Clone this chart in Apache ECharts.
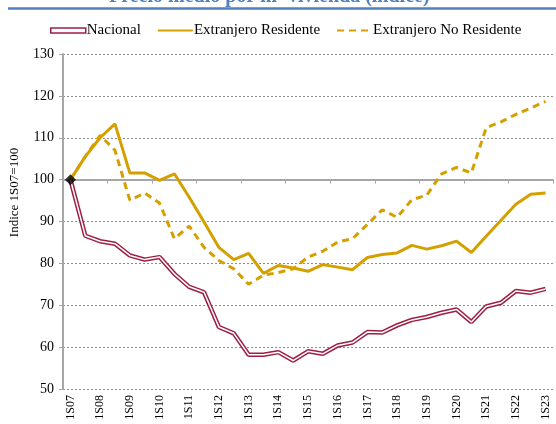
<!DOCTYPE html>
<html>
<head>
<meta charset="utf-8">
<script src="https://cdn.jsdelivr.net/npm/echarts@6/dist/echarts.min.js"></script>
<style>
  html, body { margin: 0; padding: 0; background: #fff; }
  #chart { width: 556px; height: 424px; }
</style>
</head>
<body>
<div id="chart"></div>
<script>
// semestres 1S07 .. 1S23
var periodos = ['1S07', '2S07', '1S08', '2S08', '1S09', '2S09', '1S10', '2S10', '1S11', '2S11',
  '1S12', '2S12', '1S13', '2S13', '1S14', '2S14', '1S15', '2S15', '1S16', '2S16', '1S17', '2S17',
  '1S18', '2S18', '1S19', '2S19', '1S20', '2S20', '1S21', '2S21', '1S22', '2S22', '1S23'];

// indice 1S07=100
var nacional = [100, 86.6, 85.3, 84.7, 81.9, 80.9, 81.5, 77.5, 74.4, 73.1, 64.8, 63.3, 58.2, 58.2,
  58.8, 56.8, 59.0, 58.4, 60.4, 61.1, 63.6, 63.5, 65.2, 66.5, 67.2, 68.2, 69.0, 66.0, 69.7, 70.6,
  73.4, 73.0, 73.9];
var residente = [100, 105.5, 110, 113.3, 101.6, 101.6, 99.8, 101.4, 95.8, 89.9, 83.8, 80.9, 82.4,
  77.6, 79.5, 78.9, 78.1, 79.7, 79.1, 78.5, 81.4, 82.1, 82.5, 84.3, 83.4, 84.2, 85.3, 82.6, 86.5,
  90.3, 94.1, 96.5, 96.8];
var noResidente = [100, 105.5, 110.6, 107, 95.1, 96.8, 94.4, 85.9, 88.9, 83.8, 80.7, 78.7, 75.0,
  77.2, 77.8, 78.7, 81.5, 82.9, 85.1, 85.9, 89.3, 92.8, 91.0, 95.2, 96.3, 101.4, 102.9, 101.6,
  112.4, 113.8, 115.6, 117.1, 118.7];

var yTicks = [50, 130, 10]; // min, max, paso
var base = 100;

var rojo = '#9E1F45';
var oro = '#D4A000';
var fuente = 'Liberation Serif';

var chart = echarts.init(document.getElementById('chart'));
chart.setOption({
  animation: false,
  title: {
    text: 'Precio medio por m² vivienda (índice)',
    left: 104,
    top: -18,
    textStyle: { color: '#4F81BD', fontFamily: fuente, fontWeight: 'bold', fontSize: 20 }
  },
  graphic: [{
    type: 'line',
    shape: { x1: 8, y1: 8.5, x2: 556, y2: 8.5 },
    style: { stroke: '#4F81BD', lineWidth: 2.5 }
  }],
  legend: {
    data: [
      { name: 'Nacional', icon: 'rect', itemStyle: { color: '#fff', borderColor: rojo, borderWidth: 1.5 } },
      { name: 'Extranjero Residente', itemStyle: { color: 'transparent', borderWidth: 0 } },
      { name: 'Extranjero No Residente', itemStyle: { color: 'transparent', borderWidth: 0 } }
    ],
    top: 18,
    left: 45,
    itemWidth: 35,
    itemHeight: 5,
    itemGap: 16,
    textStyle: { fontFamily: fuente, fontSize: 15, color: '#000', padding: [0, 0, 0, -4] }
  },
  grid: { left: 62, right: 3, top: 54, bottom: 35 },
  xAxis: [{
    type: 'category',
    data: periodos,
    position: 'bottom',
    axisLine: { show: false },
    axisTick: { show: false },
    axisLabel: {
      interval: 1,
      rotate: 90,
      margin: 6,
      fontFamily: fuente,
      fontSize: 12,
      color: '#000'
    }
  }, {
    type: 'category',
    data: periodos,
    position: 'top',
    offset: -125.6,
    axisLine: { show: true, lineStyle: { color: '#A6A6A6', width: 2 } },
    axisTick: { show: true, inside: true, length: 4, lineStyle: { color: '#A6A6A6', width: 1 } },
    axisLabel: { show: false }
  }],
  yAxis: {
    type: 'value',
    min: yTicks[0],
    max: yTicks[1],
    interval: yTicks[2],
    name: 'Indice 1S07=100',
    nameLocation: 'middle',
    nameGap: 42,
    nameTextStyle: { fontFamily: fuente, fontSize: 13, color: '#000', padding: [0, 0, 0, 58] },
    axisLine: { show: true, lineStyle: { color: '#A6A6A6', width: 2 } },
    axisTick: { show: true, length: 4, lineStyle: { color: '#A6A6A6' } },
    axisLabel: { fontFamily: fuente, fontSize: 14, color: '#000', margin: 9 },
    splitLine: { lineStyle: { color: '#8C8C8C', type: [2, 2], width: 1 } }
  },
  series: [{
    name: 'Nacional',
    type: 'line',
    data: nacional,
    symbol: 'none',
    lineStyle: { color: rojo, width: 4.5 },
    itemStyle: { color: rojo },
    z: 3
  }, {
    name: 'Nacional_int',
    type: 'line',
    data: nacional,
    symbol: 'none',
    lineStyle: { color: '#fff', width: 1.5 },
    z: 4
  }, {
    name: 'Extranjero Residente',
    type: 'line',
    data: residente,
    symbol: 'none',
    lineStyle: { color: oro, width: 3 },
    itemStyle: { color: oro },
    z: 5
  }, {
    name: 'Extranjero No Residente',
    type: 'line',
    data: noResidente,
    symbol: 'none',
    lineStyle: { color: oro, width: 3, type: [7, 5] },
    itemStyle: { color: oro },
    z: 5
  }, {
    name: 'base',
    type: 'scatter',
    data: [[periodos[0], base]],
    symbol: 'diamond',
    symbolSize: 11,
    itemStyle: { color: '#000' },
    z: 10
  }]
});
</script>
</body>
</html>
